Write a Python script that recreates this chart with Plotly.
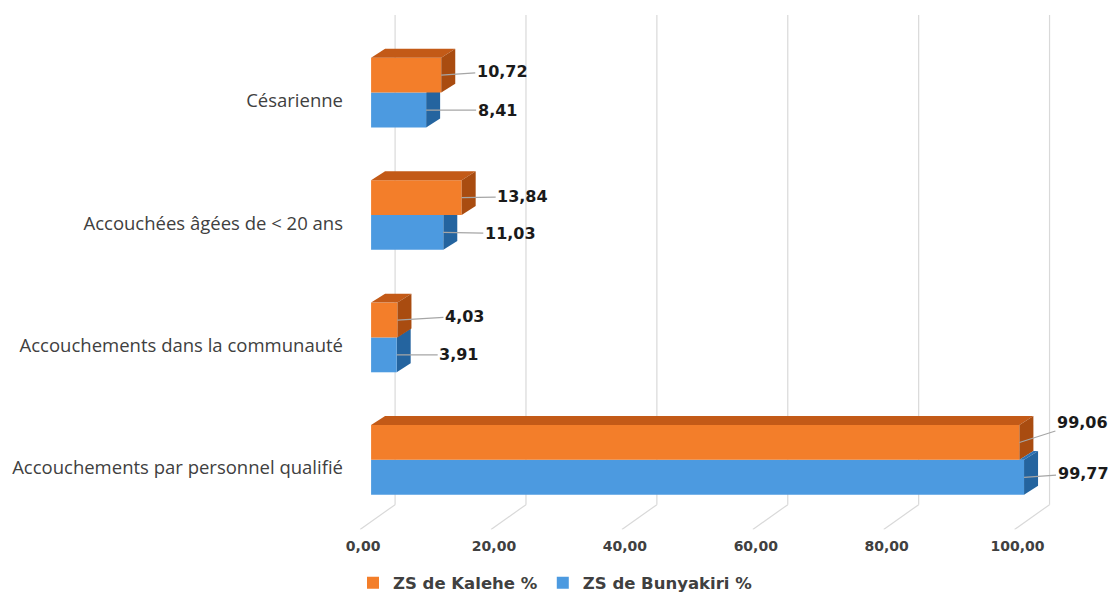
import plotly.graph_objects as go

# ---- data ----
categories = [
    "Accouchements par personnel qualifié",
    "Accouchements dans la communauté",
    "Accouchées âgées de < 20 ans",
    "Césarienne",
]
kalehe = [99.06, 4.03, 13.84, 10.72]
bunyakiri = [99.77, 3.91, 11.03, 8.41]
x_ticks = [0, 20, 40, 60, 80, 100]
series_names = ["ZS de Kalehe %", "ZS de Bunyakiri %"]

# ---- geometry / styles ----
W, H = 1111, 594
PX_X = 6.545          # px per x unit
PX_Y = 123.0          # px per category
X_RANGE = [-2, 110]
Y_RANGE = [-0.569, 3.634]
L = 371 - (0 - X_RANGE[0]) * PX_X
R = W - L - (X_RANGE[1] - X_RANGE[0]) * PX_X
T = 15
B = H - T - (Y_RANGE[1] - Y_RANGE[0]) * PX_Y

BW = 35 / PX_Y                # bar thickness (y units)
DX = 14 / PX_X                # depth offset x
DY = 9 / PX_Y                 # depth offset y
GRID_BACK_DX = 24 / PX_X
GRID_FRONT_DX = -11 / PX_X
GRID_BACK_Y = Y_RANGE[0] + 25 / PX_Y

OR_FRONT, OR_TOP, OR_SIDE = "#F37E2A", "#C35A17", "#A94C10"
BL_FRONT, BL_TOP, BL_SIDE = "#4C9AE0", "#2E72B5", "#24649F"
GRID = "#D9D9D9"
TXT = "#404040"
BOLD_FAMILY = "DejaVu Sans, Verdana, sans-serif"
CAT_FAMILY = "Open Sans, DejaVu Sans, sans-serif"

pos = list(range(len(categories)))

fig = go.Figure()
fig.add_trace(go.Bar(
    y=pos, x=bunyakiri, orientation="h", name=series_names[1],
    width=BW, offset=-BW, marker=dict(color=BL_FRONT, line=dict(width=0)),
    legendrank=2, hoverinfo="skip"))
fig.add_trace(go.Bar(
    y=pos, x=kalehe, orientation="h", name=series_names[0],
    width=BW, offset=0, marker=dict(color=OR_FRONT, line=dict(width=0)),
    legendrank=1, hoverinfo="skip"))

shapes = []


def poly(pts, color, layer):
    path = "M " + " L ".join(f"{x},{y}" for x, y in pts) + " Z"
    return dict(type="path", path=path, xref="x", yref="y",
                fillcolor=color, line=dict(width=0), layer=layer)


# gridlines (back wall + floor diagonal)
for v in x_ticks:
    xb = v + GRID_BACK_DX
    shapes.append(dict(type="line", xref="x", yref="y", x0=xb, x1=xb,
                       y0=GRID_BACK_Y, y1=Y_RANGE[1],
                       line=dict(color=GRID, width=1.2), layer="below"))
    shapes.append(dict(type="line", xref="x", yref="y", x0=xb, x1=v + GRID_FRONT_DX,
                       y0=GRID_BACK_Y, y1=Y_RANGE[0],
                       line=dict(color=GRID, width=1.2), layer="below"))

late = []
for c, vo, vb in zip(pos, kalehe, bunyakiri):
    blue_side = poly([(vb, c - BW), (vb, c), (vb + DX, c + DY), (vb + DX, c - BW + DY)],
                     BL_SIDE, "between")
    shapes.append(poly([(0, c + BW), (vo, c + BW), (vo + DX, c + BW + DY), (DX, c + BW + DY)],
                       OR_TOP, "above"))
    shapes.append(poly([(vo, c), (vo, c + BW), (vo + DX, c + BW + DY), (vo + DX, c + DY)],
                       OR_SIDE, "above"))
    if vb > vo:
        blue_side["layer"] = "above"
        late.append(poly([(vo, c), (vb, c), (vb + DX, c + DY), (vo + DX, c + DY)],
                         BL_TOP, "above"))
        late.append(blue_side)
    else:
        shapes.append(blue_side)
shapes.extend(late)

# data labels with leader lines
k_off = [(63, -20), (67, -4), (61, -1), (61, -4)]
b_off = [(59, -4), (62, 0), (67, 1), (71, 0)]
annotations = []
lab_font = dict(family=BOLD_FAMILY, size=16, color="#1A1A1A")
for c, v, (ax, ay) in zip(pos, kalehe, k_off):
    annotations.append(dict(x=v, y=c + BW / 2, xref="x", yref="y",
                            text=f"<b>{v:.2f}</b>".replace(".", ","),
                            showarrow=True, arrowhead=0, arrowwidth=1.2,
                            arrowcolor="#A6A6A6", ax=ax, ay=ay, font=lab_font))
for c, v, (ax, ay) in zip(pos, bunyakiri, b_off):
    annotations.append(dict(x=v, y=c - BW / 2, xref="x", yref="y",
                            text=f"<b>{v:.2f}</b>".replace(".", ","),
                            showarrow=True, arrowhead=0, arrowwidth=1.2,
                            arrowcolor="#A6A6A6", ax=ax, ay=ay, font=lab_font))

fig.update_layout(
    width=W, height=H,
    margin=dict(l=L, r=R, t=T, b=B, pad=0),
    paper_bgcolor="white", plot_bgcolor="white",
    barmode="overlay",
    separators=",.",
    shapes=shapes,
    annotations=annotations,
    font=dict(family=CAT_FAMILY, color=TXT),
    xaxis=dict(range=X_RANGE, tickvals=x_ticks, tickformat=".2f",
               showgrid=False, zeroline=False, showline=False, ticks="",
               tickfont=dict(family=BOLD_FAMILY, size=14, color=TXT, weight="bold"),
               ticklabelstandoff=6, ticklabelshift=-8, fixedrange=True),
    yaxis=dict(range=Y_RANGE, tickvals=pos, ticktext=categories,
               showgrid=False, zeroline=False, showline=False, ticks="",
               tickfont=dict(family=CAT_FAMILY, size=18.5, color=TXT),
               ticklabelstandoff=14, ticklabelshift=8, fixedrange=True),
    legend=dict(orientation="h", xref="container", yref="container",
                x=0.5, xanchor="center", y=1 - 583 / H, yanchor="middle",
                font=dict(family=BOLD_FAMILY, size=16.5, color=TXT, weight="bold"),
                itemwidth=30, traceorder="normal"),
    showlegend=True,
)

fig.write_html("out.html")
